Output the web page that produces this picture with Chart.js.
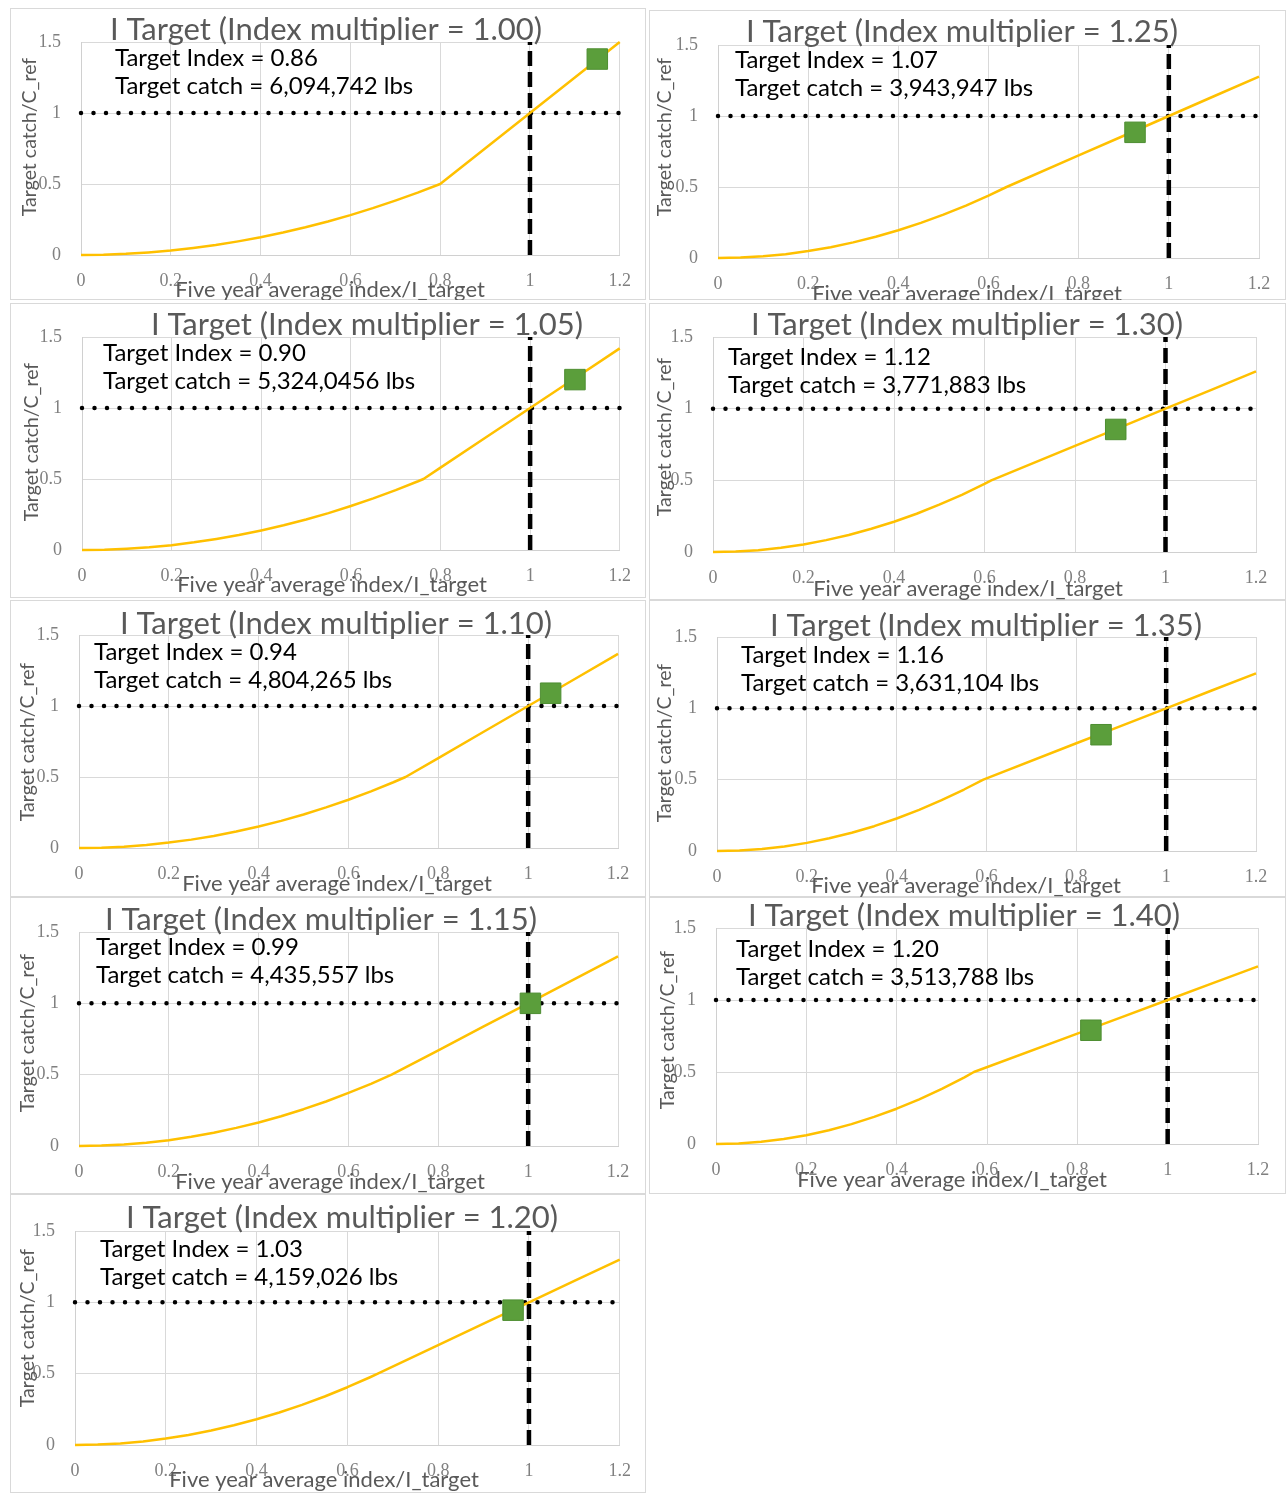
<!DOCTYPE html>
<html>
<head>
<meta charset="utf-8">
<script src="https://cdn.jsdelivr.net/npm/chart.js@4.4.0/dist/chart.umd.min.js"></script>
<style>
html,body{margin:0;padding:0;background:#fff;}
body{width:1286px;height:1493px;position:relative;overflow:hidden;}
.panel{position:absolute;}
.panel canvas{position:absolute;left:0;top:0;}
</style>
</head>
<body>
<script>
// ---------------- DATA ----------------
const multipliers = ['1.00','1.05','1.10','1.15','1.20','1.25','1.30','1.35','1.40'];
const targetIndex = ['0.86','0.90','0.94','0.99','1.03','1.07','1.12','1.16','1.20'];
const targetCatch = ['6,094,742','5,324,0456','4,804,265','4,435,557','4,159,026','3,943,947','3,771,883','3,631,104','3,513,788'];

const curveX_100 = [0,0.05,0.1,0.15,0.2,0.25,0.3,0.35,0.4,0.45,0.5,0.55,0.6,0.65,0.7,0.75,0.8,0.9,1.0,1.1,1.2];
const curveY_100 = [0,0.002,0.008,0.018,0.031,0.049,0.07,0.096,0.125,0.158,0.195,0.236,0.281,0.33,0.383,0.439,0.5,0.75,1.0,1.25,1.5];
const curveX_105 = [0,0.05,0.1,0.15,0.2,0.25,0.3,0.35,0.4,0.45,0.5,0.55,0.6,0.65,0.7,0.75,0.762,0.8,0.9,1.0,1.1,1.2];
const curveY_105 = [0,0.002,0.009,0.019,0.034,0.054,0.078,0.105,0.138,0.174,0.215,0.26,0.31,0.364,0.422,0.484,0.5,0.58,0.79,1.0,1.21,1.42];
const curveX_110 = [0,0.05,0.1,0.15,0.2,0.25,0.3,0.35,0.4,0.45,0.5,0.55,0.6,0.65,0.7,0.727,0.8,0.9,1.0,1.1,1.2];
const curveY_110 = [0,0.002,0.009,0.021,0.038,0.059,0.085,0.116,0.151,0.191,0.236,0.286,0.34,0.399,0.463,0.5,0.633,0.817,1.0,1.183,1.367];
const curveX_115 = [0,0.05,0.1,0.15,0.2,0.25,0.3,0.35,0.4,0.45,0.5,0.55,0.6,0.65,0.696,0.8,0.9,1.0,1.1,1.2];
const curveY_115 = [0,0.003,0.01,0.023,0.041,0.065,0.093,0.127,0.165,0.209,0.258,0.312,0.372,0.436,0.5,0.671,0.836,1.0,1.164,1.329];
const curveX_120 = [0,0.05,0.1,0.15,0.2,0.25,0.3,0.35,0.4,0.45,0.5,0.55,0.6,0.65,0.667,0.8,0.9,1.0,1.1,1.2];
const curveY_120 = [0,0.003,0.011,0.025,0.045,0.07,0.101,0.138,0.18,0.228,0.281,0.34,0.405,0.475,0.5,0.7,0.85,1.0,1.15,1.3];
const curveX_125 = [0,0.05,0.1,0.15,0.2,0.25,0.3,0.35,0.4,0.45,0.5,0.55,0.6,0.64,0.8,0.9,1.0,1.1,1.2];
const curveY_125 = [0,0.003,0.012,0.027,0.049,0.076,0.11,0.15,0.195,0.247,0.305,0.369,0.439,0.5,0.722,0.861,1.0,1.139,1.278];
const curveX_130 = [0,0.05,0.1,0.15,0.2,0.25,0.3,0.35,0.4,0.45,0.5,0.55,0.6,0.615,0.8,0.9,1.0,1.1,1.2];
const curveY_130 = [0,0.003,0.013,0.03,0.053,0.083,0.119,0.162,0.211,0.267,0.33,0.399,0.475,0.5,0.74,0.87,1.0,1.13,1.26];
const curveX_135 = [0,0.05,0.1,0.15,0.2,0.25,0.3,0.35,0.4,0.45,0.5,0.55,0.593,0.8,0.9,1.0,1.1,1.2];
const curveY_135 = [0,0.004,0.014,0.032,0.057,0.089,0.128,0.174,0.228,0.288,0.356,0.431,0.5,0.755,0.877,1.0,1.123,1.245];
const curveX_140 = [0,0.05,0.1,0.15,0.2,0.25,0.3,0.35,0.4,0.45,0.5,0.55,0.571,0.8,0.9,1.0,1.1,1.2];
const curveY_140 = [0,0.004,0.015,0.034,0.061,0.096,0.138,0.188,0.245,0.31,0.383,0.463,0.5,0.767,0.883,1.0,1.117,1.233];

const markerX = [1.15,1.10,1.05,1.005,0.965,0.925,0.89,0.855,0.83];
const markerY = [1.38,1.20,1.09,1.00,0.945,0.885,0.855,0.815,0.79];

const refLineX = [0,1.2];
const refLineY = [1,1];
const vLineX = [1,1];
const vLineY = [0,1.5];

const xTickLabels = ['0','0.2','0.4','0.6','0.8','1','1.2'];
const yTickLabels = ['0','0.5','1','1.5'];

const xAxisTitle = 'Five year average index/I_target';
const yAxisTitle = 'Target catch/C_ref';

const curveXs = [curveX_100,curveX_105,curveX_110,curveX_115,curveX_120,curveX_125,curveX_130,curveX_135,curveX_140];
const curveYs = [curveY_100,curveY_105,curveY_110,curveY_115,curveY_120,curveY_125,curveY_130,curveY_135,curveY_140];

// ---------------- LAYOUT (page pixels) ----------------
const layouts = [
 {L:10, T:8,   R:646, B:300, x0:81,  x12:621, y0:255, y15:42,  tcx:326, tcy:30,  ax:115, ay:58,  xtx:330, xty:290, ytx:30,  yty:137},
 {L:10, T:303, R:646, B:598, x0:82,  x12:621, y0:550, y15:337, tcx:367, tcy:325, ax:103, ay:353, xtx:332, xty:585, ytx:32,  yty:442},
 {L:10, T:600, R:646, B:897, x0:79,  x12:618, y0:848, y15:635, tcx:336, tcy:624, ax:94,  ay:652, xtx:337, xty:884, ytx:28,  yty:742},
 {L:10, T:897, R:646, B:1194,x0:79,  x12:618, y0:1146,y15:932, tcx:321, tcy:920, ax:96,  ay:947, xtx:330, xty:1182,ytx:28,  yty:1033},
 {L:10, T:1194,R:646, B:1493,x0:75,  x12:621, y0:1445,y15:1231,tcx:342, tcy:1218,ax:100, ay:1249,xtx:324, xty:1480,ytx:28,  yty:1328},
 {L:649,T:10,  R:1286,B:300, x0:718, x12:1259,y0:258, y15:45,  tcx:962, tcy:32,  ax:735, ay:60,  xtx:967, xty:294, ytx:665, yty:137},
 {L:649,T:303, R:1286,B:600, x0:713, x12:1256,y0:552, y15:337, tcx:967, tcy:325, ax:728, ay:357, xtx:968, xty:589, ytx:665, yty:437},
 {L:649,T:600, R:1286,B:897, x0:717, x12:1256,y0:851, y15:637, tcx:986, tcy:626, ax:741, ay:655, xtx:966, xty:886, ytx:665, yty:743},
 {L:649,T:897, R:1286,B:1194,x0:716, x12:1258,y0:1144,y15:928, tcx:964, tcy:916, ax:736, ay:949, xtx:952, xty:1180,ytx:668, yty:1030}
];

const TITLE_FONT = '400 31px Lato, "Open Sans", sans-serif';
const NOTE_FONT = '24px Lato, "Open Sans", sans-serif';
const XT_FONT = '22px Lato, "Open Sans", sans-serif';
const YT_FONT = '19.5px Lato, "Open Sans", sans-serif';

const panelText = {
  id: 'panelText',
  beforeDraw(chart, args, o) {
    const ctx = chart.ctx;
    ctx.save();
    ctx.strokeStyle = '#d9d9d9';
    ctx.lineWidth = 1;
    ctx.strokeRect(0.5, 0.5, chart.width - 1, chart.height - 1);
    ctx.restore();
  },
  afterDraw(chart, args, o) {
    const ctx = chart.ctx;
    const b = o.box;
    ctx.save();
    ctx.textBaseline = 'middle';
    ctx.fillStyle = '#595959';
    ctx.font = TITLE_FONT;
    ctx.textAlign = 'center';
    ctx.fillText(o.title, b.tcx - b.L, b.tcy - b.T);
    ctx.fillStyle = '#000000';
    ctx.font = NOTE_FONT;
    ctx.textAlign = 'left';
    ctx.fillText(o.line1, b.ax - b.L, b.ay - b.T);
    ctx.fillText(o.line2, b.ax - b.L, b.ay - b.T + 28);
    ctx.fillStyle = '#595959';
    ctx.font = XT_FONT;
    ctx.textAlign = 'center';
    ctx.fillText(xAxisTitle, b.xtx - b.L, b.xty - b.T);
    ctx.translate(b.ytx - b.L, b.yty - b.T);
    ctx.rotate(-Math.PI / 2);
    ctx.font = YT_FONT;
    ctx.fillText(yAxisTitle, 0, 0);
    ctx.restore();
  }
};

const pts = (xs, ys) => xs.map((x, k) => ({x: x, y: ys[k]}));

layouts.forEach((b, i) => {
  const w = b.R - b.L, h = b.B - b.T;
  const wrap = document.createElement('div');
  wrap.className = 'panel';
  wrap.style.left = b.L + 'px';
  wrap.style.top = b.T + 'px';
  wrap.style.width = w + 'px';
  wrap.style.height = h + 'px';
  const cv = document.createElement('canvas');
  cv.width = w; cv.height = h;
  cv.style.width = w + 'px'; cv.style.height = h + 'px';
  wrap.appendChild(cv);
  document.body.appendChild(wrap);

  new Chart(cv, {
    type: 'line',
    data: {
      datasets: [
        {
          label: 'Reference catch (C_ref)',
          data: pts(refLineX, refLineY),
          borderColor: '#000000',
          borderWidth: 4.5,
          borderDash: [0, 12.5],
          borderCapStyle: 'round',
          pointRadius: 0,
          clip: false,
          order: 3
        },
        {
          label: 'I_target',
          data: pts(vLineX, vLineY),
          borderColor: '#000000',
          borderWidth: 4.5,
          borderDash: [15, 6],
          borderCapStyle: 'butt',
          pointRadius: 0,
          clip: false,
          order: 2
        },
        {
          label: 'Control rule',
          data: pts(curveXs[i], curveYs[i]),
          borderColor: '#FFC000',
          borderWidth: 2.5,
          pointRadius: 0,
          tension: 0,
          borderJoinStyle: 'round',
          clip: false,
          order: 1
        },
        {
          label: 'Target',
          data: [{x: markerX[i], y: markerY[i]}],
          showLine: false,
          pointStyle: 'rect',
          pointRadius: 14.5,
          backgroundColor: '#5B9E3B',
          borderColor: '#4E8E32',
          borderWidth: 1,
          clip: false,
          order: 0
        }
      ]
    },
    options: {
      responsive: false,
      animation: false,
      devicePixelRatio: 1,
      events: [],
      layout: { padding: { top: b.y15 - b.T, right: b.R - b.x12, left: 0, bottom: 0 } },
      plugins: {
        legend: { display: false },
        tooltip: { enabled: false },
        panelText: {
          box: b,
          title: 'I Target (Index multiplier = ' + multipliers[i] + ')',
          line1: 'Target Index = ' + targetIndex[i],
          line2: 'Target catch = ' + targetCatch[i] + ' lbs'
        }
      },
      scales: {
        x: {
          type: 'linear',
          min: 0, max: 1.2,
          ticks: {
            stepSize: 0.2,
            autoSkip: false,
            maxRotation: 0,
            padding: 15,
            color: '#808080',
            font: { family: '"Liberation Serif", serif', size: 18 },
            callback: (v) => xTickLabels[Math.round(v / 0.2)]
          },
          grid: { color: '#d9d9d9', lineWidth: 1, drawTicks: false },
          border: { color: '#d0d0d0' },
          afterFit: (s) => { s.height = b.B - b.y0; }
        },
        y: {
          type: 'linear',
          min: 0, max: 1.5,
          ticks: {
            stepSize: 0.5,
            padding: 20,
            color: '#808080',
            font: { family: '"Liberation Serif", serif', size: 18 },
            callback: (v) => yTickLabels[Math.round(v / 0.5)]
          },
          grid: { color: '#d9d9d9', lineWidth: 1, drawTicks: false },
          border: { color: '#d0d0d0' },
          afterFit: (s) => { s.width = b.x0 - b.L; }
        }
      }
    },
    plugins: [panelText]
  });
});
</script>
</body>
</html>
